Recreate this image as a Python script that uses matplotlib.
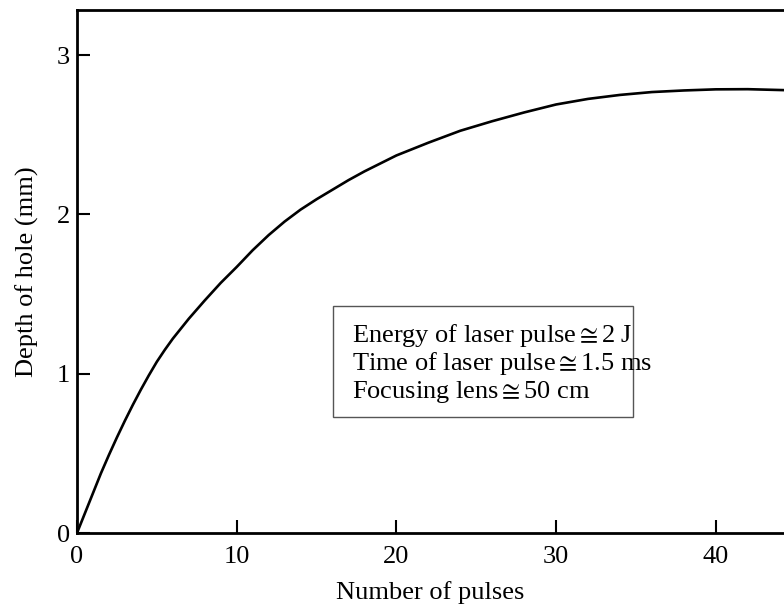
import matplotlib
matplotlib.use("Agg")
import matplotlib.pyplot as plt
from matplotlib.patches import Rectangle

plt.rcParams['font.family'] = ['Liberation Serif', 'DejaVu Sans']
plt.rcParams['mathtext.fontset'] = 'stix'

# Data
pulses = [0, 0.5, 1, 1.5, 2, 2.5, 3, 3.5, 4, 4.5, 5, 5.5, 6, 7, 8, 9, 10, 11, 12, 13,
          14, 15, 16, 17, 18, 19, 20, 22, 24, 26, 28, 30, 32, 34, 36, 38, 40, 42, 44.3]
depth = [0, 0.125, 0.25, 0.375, 0.49, 0.60, 0.705, 0.805, 0.90, 0.99, 1.075, 1.15,
         1.22, 1.345, 1.46, 1.57, 1.67, 1.775, 1.87, 1.955, 2.03, 2.095, 2.155,
         2.215, 2.27, 2.32, 2.37, 2.45, 2.525, 2.585, 2.64, 2.69, 2.725,
         2.75, 2.768, 2.778, 2.785, 2.786, 2.78]
x_ticks = [0, 10, 20, 30, 40]
y_ticks = [0, 1, 2, 3]
box_lines = ["Energy of laser pulse$\\cong$2 J",
             "Time of laser pulse$\\cong$1.5 ms",
             "Focusing lens$\\cong$50 cm"]

fig = plt.figure(figsize=(7.84, 6.14), dpi=100)
ax = fig.add_axes([0.0982, 0.1319, 0.9018, 0.8518])

ax.plot(pulses, depth, color='black', lw=1.9, solid_capstyle='butt',
        solid_joinstyle='round')

ax.set_xlim(0, 44.27)
ax.set_ylim(0, 3.283)
ax.set_xticks(x_ticks)
ax.set_yticks(y_ticks)
ax.tick_params(direction='in', length=9.5, width=1.5, labelsize=19)
ax.tick_params(axis='x', pad=9)
ax.tick_params(axis='y', pad=5)
for s in ['left', 'bottom', 'top']:
    ax.spines[s].set_linewidth(2.0)
ax.spines['right'].set_visible(False)

ax.set_xlabel('Number of pulses', fontsize=19, labelpad=10)
ax.set_ylabel('Depth of hole (mm)', fontsize=19, labelpad=13)

ax.add_patch(Rectangle((0.362, 0.2218), 0.424, 0.2122, transform=ax.transAxes,
                       fill=False, edgecolor='#555555', lw=1.0))
for line, yy in zip(box_lines, [0.365, 0.3117, 0.258]):
    ax.text(0.389, yy, line, transform=ax.transAxes, fontsize=19,
            va='baseline', ha='left')

fig.savefig('out.png', dpi=100)
